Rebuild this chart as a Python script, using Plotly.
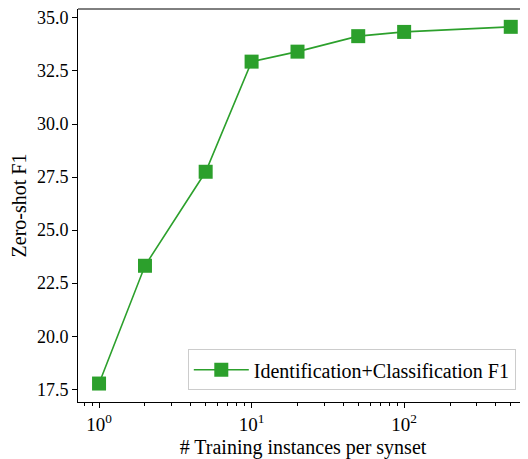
import plotly.graph_objects as go

instances = [1, 2, 5, 10, 20, 50, 100, 500]
f1_scores = [17.77, 23.32, 27.75, 32.94, 33.41, 34.14, 34.34, 34.58]
series_name = "Identification+Classification F1"
y_ticks = [17.5, 20.0, 22.5, 25.0, 27.5, 30.0, 32.5, 35.0]
x_major = [1, 10, 100]
x_major_text = ["10<sup>0</sup>", "10<sup>1</sup>", "10<sup>2</sup>"]
x_minor = [0.8, 0.9] + [d * m for m in (1, 10, 100) for d in range(2, 10)]

green = "#2ca02c"
font = "Liberation Serif"

fig = go.Figure()
fig.add_trace(go.Scatter(
    x=instances, y=f1_scores, mode="lines+markers", name=series_name,
    line=dict(color=green, width=1.6),
    marker=dict(symbol="square", size=14, color=green),
))

# page body has an 8px default margin, so the figure is 8px smaller and offset
fig.update_layout(
    width=520, height=451,
    margin=dict(l=70, r=0, t=1, b=57, autoexpand=False),
    paper_bgcolor="white", plot_bgcolor="white",
    font=dict(family=font, size=16, color="black"),
    showlegend=True,
    legend=dict(x=0.244, y=0.03, xanchor="left", yanchor="bottom",
                bordercolor="#cccccc", borderwidth=1, bgcolor="rgba(255,255,255,0.8)",
                itemwidth=55, font=dict(size=20, family=font)),
    xaxis=dict(
        type="log", range=[-0.138, 2.812], automargin=True,
        tickmode="array", tickvals=x_major, ticktext=x_major_text,
        ticks="outside", ticklen=5, tickwidth=1, tickcolor="black",
        showline=True, linecolor="black", linewidth=1,
        showgrid=False, zeroline=False,
        minor=dict(tickmode="array", tickvals=x_minor, ticks="outside",
                   ticklen=3, tickwidth=0.8, tickcolor="black", showgrid=False),
        title=dict(text="# Training instances per synset", font=dict(size=20, family=font), standoff=8),
        tickfont=dict(size=19, family=font),
    ),
    yaxis=dict(
        range=[16.9, 35.42], automargin=False,
        tickmode="array", tickvals=y_ticks, tickformat=".1f",
        ticks="outside", ticklen=5, tickwidth=1, tickcolor="black",
        showline=True, linecolor="black", linewidth=1,
        showgrid=False, zeroline=False,
        title=dict(text="Zero-shot F1", font=dict(size=20, family=font)),
        tickfont=dict(size=18, family=font),
    ),
)
fig.add_shape(type="line", xref="paper", yref="paper", x0=0, x1=1, y0=1, y1=1,
              line=dict(color="black", width=1))

fig.write_html("out.html")
